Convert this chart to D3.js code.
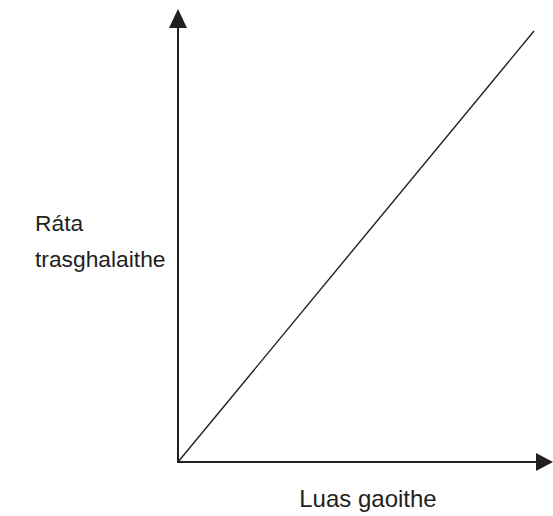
<!DOCTYPE html>
<html>
<head>
<meta charset="utf-8">
<script src="https://cdn.jsdelivr.net/npm/d3@7"></script>
<style>
  body { margin: 0; background: #fff; }
  svg { display: block; }
  text { font-family: "Liberation Sans", Arial, sans-serif; fill: #231f20; }
</style>
</head>
<body>
<div id="chart"></div>
<script>
// wind speed vs transpiration rate: straight line from origin
const windSpeed = [0, 10];
const transpRate = [0, 10];
const xLabel = "Luas gaoithe";
const yLabel = ["Ráta", "trasghalaithe"];

const width = 553;
const height = 516;
const margin = { top: 31, right: 19, bottom: 54, left: 178 };

const svg = d3.select("#chart")
  .append("svg")
  .attr("width", width)
  .attr("height", height);

const xScale = d3.scaleLinear()
  .domain([0, 10])
  .range([margin.left, width - margin.right]);

const yScale = d3.scaleLinear()
  .domain([0, 10])
  .range([height - margin.bottom, margin.top]);

const x0 = xScale(0);
const y0 = yScale(0);

// axes (no ticks), drawn with arrowheads
svg.append("line")
  .attr("x1", x0).attr("y1", y0)
  .attr("x2", width - 16).attr("y2", y0)
  .attr("stroke", "#231f20")
  .attr("stroke-width", 2);

svg.append("path")
  .attr("d", `M${width - 17},${y0 - 9}L${width},${y0}L${width - 17},${y0 + 9}Z`)
  .attr("fill", "#231f20");

svg.append("line")
  .attr("x1", x0).attr("y1", y0 + 1)
  .attr("x2", x0).attr("y2", 27)
  .attr("stroke", "#231f20")
  .attr("stroke-width", 2);

svg.append("path")
  .attr("d", `M${x0 - 9},28L${x0},9L${x0 + 9},28Z`)
  .attr("fill", "#231f20");

// data line
const lineData = windSpeed.map((d, i) => ({ x: d, y: transpRate[i] }));
const line = d3.line()
  .x(d => xScale(d.x))
  .y(d => yScale(d.y));

svg.append("path")
  .datum(lineData)
  .attr("d", line)
  .attr("fill", "none")
  .attr("stroke", "#231f20")
  .attr("stroke-width", 1.4);

// labels
svg.append("text")
  .attr("x", 368)
  .attr("y", 507)
  .attr("text-anchor", "middle")
  .style("font-size", "24px")
  .text(xLabel);

svg.selectAll(".y-label")
  .data(yLabel)
  .enter()
  .append("text")
  .attr("class", "y-label")
  .attr("x", 35)
  .attr("y", (d, i) => 231 + i * 36)
  .style("font-size", "22.8px")
  .text(d => d);
</script>
</body>
</html>
